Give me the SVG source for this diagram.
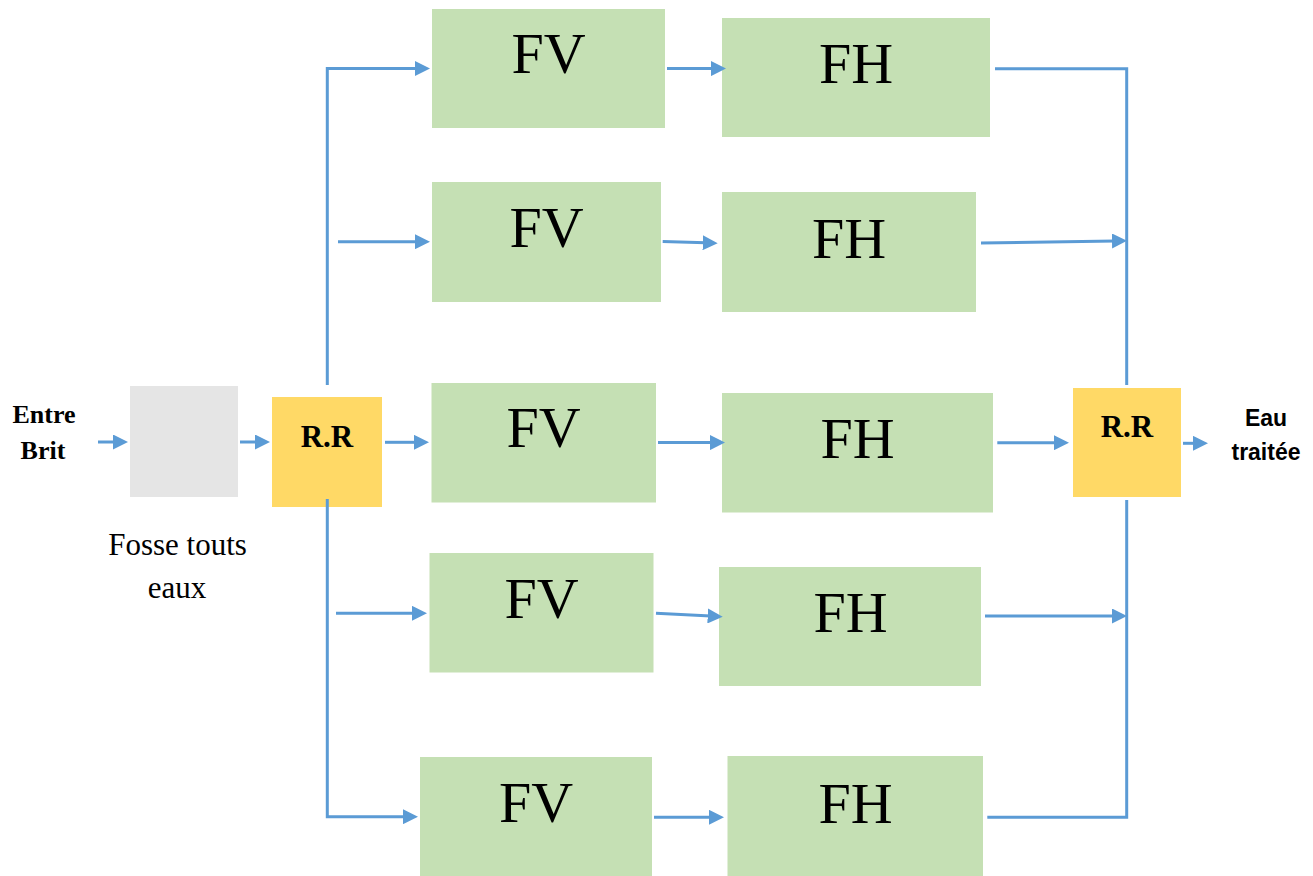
<svg xmlns="http://www.w3.org/2000/svg" width="1313" height="876" viewBox="0 0 1313 876">
<defs>
<marker id="ah" viewBox="0 0 15 15" refX="3" refY="7.5" markerWidth="15" markerHeight="15" markerUnits="userSpaceOnUse" orient="auto">
<path d="M0,0 L15,7.5 L0,15 z" fill="#5B9BD5"/>
</marker>
<style>
.fv{fill:#C5E0B4}
.rr{fill:#FFD966}
.gr{fill:#E5E5E5}
.big{font-family:"Liberation Serif","Times New Roman",serif;font-size:58px;fill:#000;text-anchor:middle}
.rrt{font-family:"Liberation Serif","Times New Roman",serif;font-size:31px;font-weight:bold;fill:#000;text-anchor:middle}
.lab{font-family:"Liberation Serif","Times New Roman",serif;font-size:26px;font-weight:bold;fill:#000;text-anchor:middle}
.cap{font-family:"Liberation Serif","Times New Roman",serif;font-size:31px;fill:#000;text-anchor:middle}
.out{font-family:"Liberation Sans",Arial,sans-serif;font-size:23px;font-weight:bold;fill:#000;text-anchor:middle}
.c{fill:none;stroke:#5B9BD5;stroke-width:3}
.a{marker-end:url(#ah)}
</style>
</defs>
<rect width="1313" height="876" fill="#fff"/>

<g id="labels">
<text class="lab" x="44" y="423">Entre</text>
<text class="lab" x="43" y="459">Brit</text>
<text class="out" x="1266" y="426">Eau</text>
<text class="out" x="1266" y="460">traitée</text>
</g>

<g id="fosse">
<rect class="gr" x="130" y="386" width="108" height="111"/>
<text class="cap" x="177.5" y="555">Fosse touts</text>
<text class="cap" x="177" y="598">eaux</text>
</g>

<g id="rr1">
<rect class="rr" x="272" y="397" width="110" height="110"/>
<text class="rrt" x="327" y="447">R.R</text>
</g>

<g id="rr2">
<rect class="rr" x="1073" y="388" width="108" height="109"/>
<text class="rrt" x="1127" y="437">R.R</text>
</g>

<g id="fv1"><rect class="fv" x="432" y="9" width="233" height="119"/><text class="big" x="548.5" y="73">FV</text></g>
<g id="fv2"><rect class="fv" x="432" y="182" width="229" height="120"/><text class="big" x="546.5" y="246.5">FV</text></g>
<g id="fv3"><rect class="fv" x="431.5" y="383" width="224.5" height="119.5"/><text class="big" x="543.5" y="447">FV</text></g>
<g id="fv4"><rect class="fv" x="429.5" y="553" width="224" height="119.5"/><text class="big" x="541.5" y="618">FV</text></g>
<g id="fv5"><rect class="fv" x="420" y="757" width="232" height="119"/><text class="big" x="536" y="822">FV</text></g>

<g id="fh1"><rect class="fv" x="722" y="18" width="268" height="119"/><text class="big" x="856" y="82.5">FH</text></g>
<g id="fh2"><rect class="fv" x="722" y="192" width="254" height="120"/><text class="big" x="849" y="257.5">FH</text></g>
<g id="fh3"><rect class="fv" x="722" y="393" width="271" height="119.5"/><text class="big" x="857.5" y="458">FH</text></g>
<g id="fh4"><rect class="fv" x="719" y="567" width="262" height="119"/><text class="big" x="850.5" y="631.5">FH</text></g>
<g id="fh5"><rect class="fv" x="727.5" y="756" width="255.5" height="120"/><text class="big" x="855.5" y="823">FH</text></g>

<g id="connectors">
<path class="c a" d="M98,442 H116"/>
<path class="c a" d="M240,442 H258"/>
<path class="c a" d="M385,442.3 H417"/>
<path class="c a" d="M327.3,385 V68.5 H418"/>
<path class="c a" d="M338,241.7 H418"/>
<path class="c a" d="M327.3,499 V816.7 H406"/>
<path class="c a" d="M336,613.3 H415"/>

<path class="c a" d="M667,68.6 H714"/>
<path class="c a" d="M662.7,241.6 L705.7,242.8"/>
<path class="c a" d="M658,442.6 H713"/>
<path class="c a" d="M656,613.3 L710.7,616.1"/>
<path class="c a" d="M654,817.3 H712"/>

<path class="c" d="M995,68.7 H1126.7 V385"/>
<path class="c a" d="M981,243 L1115,241"/>
<path class="c a" d="M997.3,442.7 H1057"/>
<path class="c a" d="M985,616 H1115"/>
<path class="c" d="M987.3,817.3 H1126.7 V500"/>
<path class="c a" d="M1183,443.3 H1196"/>
</g>
</svg>
